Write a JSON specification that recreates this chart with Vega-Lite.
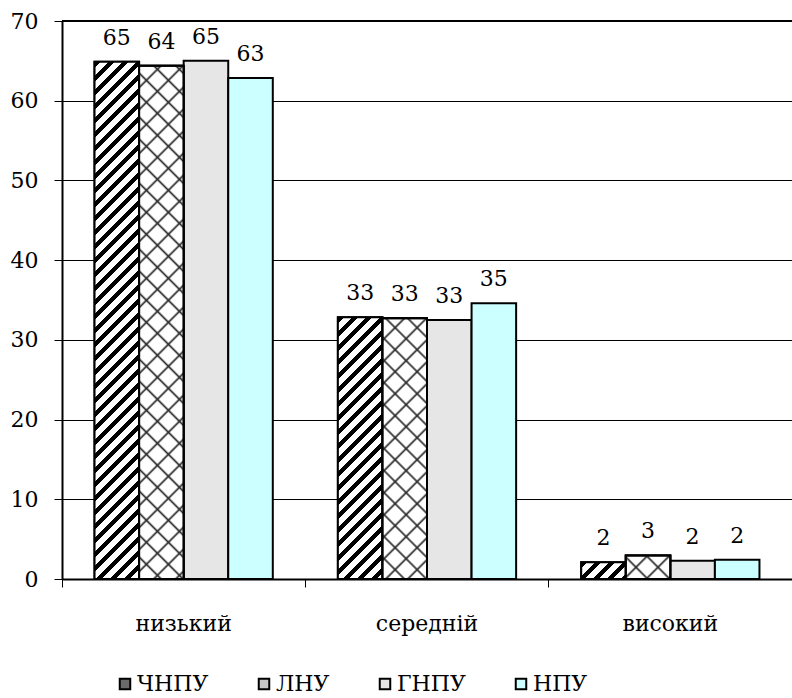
{
  "$schema": "https://vega.github.io/schema/vega-lite/v6.json",
  "width": 730,
  "height": 558,
  "autosize": {"type": "none"},
  "padding": {"left": 62, "top": 21, "right": 0, "bottom": 119},
  "background": "white",
  "config": {
    "view": {"stroke": null},
    "legend": {"labelFont": "DejaVu Serif", "labelFontSize": 22, "labelColor": "black"}
  },
  "data": {
    "values": [
      {"level": "низький", "uni": "ЧНПУ", "value": 64.9},
      {"level": "низький", "uni": "ЛНУ", "value": 64.4},
      {"level": "низький", "uni": "ГНПУ", "value": 65.0},
      {"level": "низький", "uni": "НПУ", "value": 62.85},
      {"level": "середній", "uni": "ЧНПУ", "value": 32.85},
      {"level": "середній", "uni": "ЛНУ", "value": 32.7},
      {"level": "середній", "uni": "ГНПУ", "value": 32.5},
      {"level": "середній", "uni": "НПУ", "value": 34.6},
      {"level": "високий", "uni": "ЧНПУ", "value": 2.1},
      {"level": "високий", "uni": "ЛНУ", "value": 2.95},
      {"level": "високий", "uni": "ГНПУ", "value": 2.3},
      {"level": "високий", "uni": "НПУ", "value": 2.4}
    ]
  },
  "encoding": {
    "x": {
      "field": "level",
      "type": "nominal",
      "sort": ["низький", "середній", "високий"],
      "scale": {"domain": ["низький", "середній", "високий"], "paddingInner": 0, "paddingOuter": 0},
      "axis": {
        "title": null,
        "labelAngle": 0,
        "bandPosition": 0,
        "tickSize": 8,
        "tickColor": "black",
        "tickWidth": 1,
        "domainColor": "black",
        "domainWidth": 2,
        "labelPadding": 26,
        "labelBaseline": "top",
        "labelFont": "DejaVu Serif",
        "labelFontSize": 22,
        "labelColor": "black",
        "grid": false
      }
    },
    "xOffset": {
      "field": "uni",
      "type": "nominal",
      "sort": ["ЧНПУ", "ЛНУ", "ГНПУ", "НПУ"],
      "scale": {"domain": ["ЧНПУ", "ЛНУ", "ГНПУ", "НПУ"], "paddingInner": 0, "paddingOuter": 0.73}
    },
    "y": {
      "field": "value",
      "type": "quantitative",
      "scale": {"domain": [0, 70], "nice": false},
      "axis": {
        "title": null,
        "values": [0, 10, 20, 30, 40, 50, 60, 70],
        "tickSize": 8,
        "tickColor": "black",
        "domainColor": "black",
        "domainWidth": 2,
        "gridColor": "black",
        "gridWidth": 1,
        "gridOpacity": 1,
        "labelPadding": 16,
        "labelFont": "DejaVu Serif",
        "labelFontSize": 22,
        "labelColor": "black"
      }
    }
  },
  "layer": [
    {
      "mark": {"type": "bar", "stroke": "black", "strokeWidth": 2},
      "encoding": {
        "fill": {
          "field": "uni",
          "type": "nominal",
          "sort": ["ЧНПУ", "ЛНУ", "ГНПУ", "НПУ"],
          "scale": {
            "domain": ["ЧНПУ", "ЛНУ", "ГНПУ", "НПУ"],
            "range": ["#6a6a6a", "#c6c6c6", "#e6e6e6", "#ccffff"]
          },
          "legend": {
            "title": null,
            "orient": "none",
            "direction": "horizontal",
            "legendX": 52,
            "legendY": 652,
            "symbolType": "square",
            "symbolSize": 110,
            "symbolStrokeColor": "black",
            "symbolStrokeWidth": 2,
            "symbolOpacity": 1,
            "labelFont": "DejaVu Serif",
            "labelFontSize": 22,
            "labelColor": "black",
            "labelOffset": 1,
            "columnPadding": 44
          }
        }
      }
    },
    {
      "transform": [{"filter": "datum.uni === 'ЧНПУ' || datum.uni === 'ЛНУ'"}],
      "mark": {"type": "bar", "stroke": "black", "strokeWidth": 2},
      "encoding": {
        "fill": {
          "condition": [
            {
              "test": "datum.uni === 'ЧНПУ' && datum.level === 'низький'",
              "value": {
                "gradient": "linear", "x1": 0, "y1": 0, "x2": 0.1157, "y2": 1.3432,
                "stops": [
                  {"offset": 0, "color": "#000"}, {"offset": 0.009, "color": "#000"}, {"offset": 0.009, "color": "#fff"}, {"offset": 0.02, "color": "#fff"},
                  {"offset": 0.02, "color": "#000"}, {"offset": 0.029, "color": "#000"}, {"offset": 0.029, "color": "#fff"}, {"offset": 0.04, "color": "#fff"},
                  {"offset": 0.04, "color": "#000"}, {"offset": 0.049, "color": "#000"}, {"offset": 0.049, "color": "#fff"}, {"offset": 0.06, "color": "#fff"},
                  {"offset": 0.06, "color": "#000"}, {"offset": 0.069, "color": "#000"}, {"offset": 0.069, "color": "#fff"}, {"offset": 0.08, "color": "#fff"},
                  {"offset": 0.08, "color": "#000"}, {"offset": 0.089, "color": "#000"}, {"offset": 0.089, "color": "#fff"}, {"offset": 0.1, "color": "#fff"},
                  {"offset": 0.1, "color": "#000"}, {"offset": 0.109, "color": "#000"}, {"offset": 0.109, "color": "#fff"}, {"offset": 0.12, "color": "#fff"},
                  {"offset": 0.12, "color": "#000"}, {"offset": 0.129, "color": "#000"}, {"offset": 0.129, "color": "#fff"}, {"offset": 0.14, "color": "#fff"},
                  {"offset": 0.14, "color": "#000"}, {"offset": 0.149, "color": "#000"}, {"offset": 0.149, "color": "#fff"}, {"offset": 0.16, "color": "#fff"},
                  {"offset": 0.16, "color": "#000"}, {"offset": 0.169, "color": "#000"}, {"offset": 0.169, "color": "#fff"}, {"offset": 0.18, "color": "#fff"},
                  {"offset": 0.18, "color": "#000"}, {"offset": 0.189, "color": "#000"}, {"offset": 0.189, "color": "#fff"}, {"offset": 0.2, "color": "#fff"},
                  {"offset": 0.2, "color": "#000"}, {"offset": 0.209, "color": "#000"}, {"offset": 0.209, "color": "#fff"}, {"offset": 0.22, "color": "#fff"},
                  {"offset": 0.22, "color": "#000"}, {"offset": 0.229, "color": "#000"}, {"offset": 0.229, "color": "#fff"}, {"offset": 0.24, "color": "#fff"},
                  {"offset": 0.24, "color": "#000"}, {"offset": 0.249, "color": "#000"}, {"offset": 0.249, "color": "#fff"}, {"offset": 0.26, "color": "#fff"},
                  {"offset": 0.26, "color": "#000"}, {"offset": 0.269, "color": "#000"}, {"offset": 0.269, "color": "#fff"}, {"offset": 0.28, "color": "#fff"},
                  {"offset": 0.28, "color": "#000"}, {"offset": 0.289, "color": "#000"}, {"offset": 0.289, "color": "#fff"}, {"offset": 0.3, "color": "#fff"},
                  {"offset": 0.3, "color": "#000"}, {"offset": 0.309, "color": "#000"}, {"offset": 0.309, "color": "#fff"}, {"offset": 0.32, "color": "#fff"},
                  {"offset": 0.32, "color": "#000"}, {"offset": 0.329, "color": "#000"}, {"offset": 0.329, "color": "#fff"}, {"offset": 0.34, "color": "#fff"},
                  {"offset": 0.34, "color": "#000"}, {"offset": 0.349, "color": "#000"}, {"offset": 0.349, "color": "#fff"}, {"offset": 0.36, "color": "#fff"},
                  {"offset": 0.36, "color": "#000"}, {"offset": 0.369, "color": "#000"}, {"offset": 0.369, "color": "#fff"}, {"offset": 0.38, "color": "#fff"},
                  {"offset": 0.38, "color": "#000"}, {"offset": 0.389, "color": "#000"}, {"offset": 0.389, "color": "#fff"}, {"offset": 0.4, "color": "#fff"},
                  {"offset": 0.4, "color": "#000"}, {"offset": 0.409, "color": "#000"}, {"offset": 0.409, "color": "#fff"}, {"offset": 0.42, "color": "#fff"},
                  {"offset": 0.42, "color": "#000"}, {"offset": 0.429, "color": "#000"}, {"offset": 0.429, "color": "#fff"}, {"offset": 0.44, "color": "#fff"},
                  {"offset": 0.44, "color": "#000"}, {"offset": 0.449, "color": "#000"}, {"offset": 0.449, "color": "#fff"}, {"offset": 0.46, "color": "#fff"},
                  {"offset": 0.46, "color": "#000"}, {"offset": 0.469, "color": "#000"}, {"offset": 0.469, "color": "#fff"}, {"offset": 0.48, "color": "#fff"},
                  {"offset": 0.48, "color": "#000"}, {"offset": 0.489, "color": "#000"}, {"offset": 0.489, "color": "#fff"}, {"offset": 0.5, "color": "#fff"},
                  {"offset": 0.5, "color": "#000"}, {"offset": 0.509, "color": "#000"}, {"offset": 0.509, "color": "#fff"}, {"offset": 0.52, "color": "#fff"},
                  {"offset": 0.52, "color": "#000"}, {"offset": 0.529, "color": "#000"}, {"offset": 0.529, "color": "#fff"}, {"offset": 0.54, "color": "#fff"},
                  {"offset": 0.54, "color": "#000"}, {"offset": 0.549, "color": "#000"}, {"offset": 0.549, "color": "#fff"}, {"offset": 0.56, "color": "#fff"},
                  {"offset": 0.56, "color": "#000"}, {"offset": 0.569, "color": "#000"}, {"offset": 0.569, "color": "#fff"}, {"offset": 0.58, "color": "#fff"},
                  {"offset": 0.58, "color": "#000"}, {"offset": 0.589, "color": "#000"}, {"offset": 0.589, "color": "#fff"}, {"offset": 0.6, "color": "#fff"},
                  {"offset": 0.6, "color": "#000"}, {"offset": 0.609, "color": "#000"}, {"offset": 0.609, "color": "#fff"}, {"offset": 0.62, "color": "#fff"},
                  {"offset": 0.62, "color": "#000"}, {"offset": 0.629, "color": "#000"}, {"offset": 0.629, "color": "#fff"}, {"offset": 0.64, "color": "#fff"},
                  {"offset": 0.64, "color": "#000"}, {"offset": 0.649, "color": "#000"}, {"offset": 0.649, "color": "#fff"}, {"offset": 0.66, "color": "#fff"},
                  {"offset": 0.66, "color": "#000"}, {"offset": 0.669, "color": "#000"}, {"offset": 0.669, "color": "#fff"}, {"offset": 0.68, "color": "#fff"},
                  {"offset": 0.68, "color": "#000"}, {"offset": 0.689, "color": "#000"}, {"offset": 0.689, "color": "#fff"}, {"offset": 0.7, "color": "#fff"},
                  {"offset": 0.7, "color": "#000"}, {"offset": 0.709, "color": "#000"}, {"offset": 0.709, "color": "#fff"}, {"offset": 0.72, "color": "#fff"},
                  {"offset": 0.72, "color": "#000"}, {"offset": 0.729, "color": "#000"}, {"offset": 0.729, "color": "#fff"}, {"offset": 0.74, "color": "#fff"},
                  {"offset": 0.74, "color": "#000"}, {"offset": 0.749, "color": "#000"}, {"offset": 0.749, "color": "#fff"}, {"offset": 0.76, "color": "#fff"},
                  {"offset": 0.76, "color": "#000"}, {"offset": 0.769, "color": "#000"}, {"offset": 0.769, "color": "#fff"}, {"offset": 0.78, "color": "#fff"},
                  {"offset": 0.78, "color": "#000"}, {"offset": 0.789, "color": "#000"}, {"offset": 0.789, "color": "#fff"}, {"offset": 0.8, "color": "#fff"},
                  {"offset": 0.8, "color": "#000"}, {"offset": 0.809, "color": "#000"}, {"offset": 0.809, "color": "#fff"}, {"offset": 0.82, "color": "#fff"}
                ]
              }
            },
            {
              "test": "datum.uni === 'ЧНПУ' && datum.level === 'середній'",
              "value": {
                "gradient": "linear", "x1": 0, "y1": 0, "x2": 0.2211, "y2": 1.299,
                "stops": [
                  {"offset": 0, "color": "#000"}, {"offset": 0.018, "color": "#000"}, {"offset": 0.018, "color": "#fff"}, {"offset": 0.04, "color": "#fff"},
                  {"offset": 0.04, "color": "#000"}, {"offset": 0.058, "color": "#000"}, {"offset": 0.058, "color": "#fff"}, {"offset": 0.08, "color": "#fff"},
                  {"offset": 0.08, "color": "#000"}, {"offset": 0.098, "color": "#000"}, {"offset": 0.098, "color": "#fff"}, {"offset": 0.12, "color": "#fff"},
                  {"offset": 0.12, "color": "#000"}, {"offset": 0.138, "color": "#000"}, {"offset": 0.138, "color": "#fff"}, {"offset": 0.16, "color": "#fff"},
                  {"offset": 0.16, "color": "#000"}, {"offset": 0.178, "color": "#000"}, {"offset": 0.178, "color": "#fff"}, {"offset": 0.2, "color": "#fff"},
                  {"offset": 0.2, "color": "#000"}, {"offset": 0.218, "color": "#000"}, {"offset": 0.218, "color": "#fff"}, {"offset": 0.24, "color": "#fff"},
                  {"offset": 0.24, "color": "#000"}, {"offset": 0.258, "color": "#000"}, {"offset": 0.258, "color": "#fff"}, {"offset": 0.28, "color": "#fff"},
                  {"offset": 0.28, "color": "#000"}, {"offset": 0.298, "color": "#000"}, {"offset": 0.298, "color": "#fff"}, {"offset": 0.32, "color": "#fff"},
                  {"offset": 0.32, "color": "#000"}, {"offset": 0.338, "color": "#000"}, {"offset": 0.338, "color": "#fff"}, {"offset": 0.36, "color": "#fff"},
                  {"offset": 0.36, "color": "#000"}, {"offset": 0.378, "color": "#000"}, {"offset": 0.378, "color": "#fff"}, {"offset": 0.4, "color": "#fff"},
                  {"offset": 0.4, "color": "#000"}, {"offset": 0.418, "color": "#000"}, {"offset": 0.418, "color": "#fff"}, {"offset": 0.44, "color": "#fff"},
                  {"offset": 0.44, "color": "#000"}, {"offset": 0.458, "color": "#000"}, {"offset": 0.458, "color": "#fff"}, {"offset": 0.48, "color": "#fff"},
                  {"offset": 0.48, "color": "#000"}, {"offset": 0.498, "color": "#000"}, {"offset": 0.498, "color": "#fff"}, {"offset": 0.52, "color": "#fff"},
                  {"offset": 0.52, "color": "#000"}, {"offset": 0.538, "color": "#000"}, {"offset": 0.538, "color": "#fff"}, {"offset": 0.56, "color": "#fff"},
                  {"offset": 0.56, "color": "#000"}, {"offset": 0.578, "color": "#000"}, {"offset": 0.578, "color": "#fff"}, {"offset": 0.6, "color": "#fff"},
                  {"offset": 0.6, "color": "#000"}, {"offset": 0.618, "color": "#000"}, {"offset": 0.618, "color": "#fff"}, {"offset": 0.64, "color": "#fff"},
                  {"offset": 0.64, "color": "#000"}, {"offset": 0.658, "color": "#000"}, {"offset": 0.658, "color": "#fff"}, {"offset": 0.68, "color": "#fff"},
                  {"offset": 0.68, "color": "#000"}, {"offset": 0.698, "color": "#000"}, {"offset": 0.698, "color": "#fff"}, {"offset": 0.72, "color": "#fff"},
                  {"offset": 0.72, "color": "#000"}, {"offset": 0.738, "color": "#000"}, {"offset": 0.738, "color": "#fff"}, {"offset": 0.76, "color": "#fff"},
                  {"offset": 0.76, "color": "#000"}, {"offset": 0.778, "color": "#000"}, {"offset": 0.778, "color": "#fff"}, {"offset": 0.8, "color": "#fff"},
                  {"offset": 0.8, "color": "#000"}, {"offset": 0.818, "color": "#000"}, {"offset": 0.818, "color": "#fff"}, {"offset": 0.84, "color": "#fff"},
                  {"offset": 0.84, "color": "#000"}, {"offset": 0.858, "color": "#000"}, {"offset": 0.858, "color": "#fff"}, {"offset": 0.88, "color": "#fff"}
                ]
              }
            },
            {
              "test": "datum.uni === 'ЧНПУ' && datum.level === 'високий'",
              "value": {
                "gradient": "linear", "x1": 0, "y1": 0, "x2": 1.3764, "y2": 0.517,
                "stops": [
                  {"offset": 0, "color": "#000"}, {"offset": 0.09, "color": "#000"}, {"offset": 0.09, "color": "#fff"}, {"offset": 0.2, "color": "#fff"},
                  {"offset": 0.2, "color": "#000"}, {"offset": 0.29, "color": "#000"}, {"offset": 0.29, "color": "#fff"}, {"offset": 0.4, "color": "#fff"},
                  {"offset": 0.4, "color": "#000"}, {"offset": 0.49, "color": "#000"}, {"offset": 0.49, "color": "#fff"}, {"offset": 0.6, "color": "#fff"},
                  {"offset": 0.6, "color": "#000"}, {"offset": 0.69, "color": "#000"}, {"offset": 0.69, "color": "#fff"}, {"offset": 0.8, "color": "#fff"},
                  {"offset": 0.8, "color": "#000"}, {"offset": 0.89, "color": "#000"}, {"offset": 0.89, "color": "#fff"}, {"offset": 1, "color": "#fff"}
                ]
              }
            },
            {
              "test": "datum.uni === 'ЛНУ' && datum.level === 'низький'",
              "value": {
                "gradient": "linear", "x1": 0, "y1": 0, "x2": 0.1846, "y2": 2.1267,
                "stops": [
                  {"offset": 0, "color": "#2a2a2a"}, {"offset": 0.0022, "color": "#fff"}, {"offset": 0.0178, "color": "#fff"},
                  {"offset": 0.02, "color": "#2a2a2a"}, {"offset": 0.0222, "color": "#fff"}, {"offset": 0.0378, "color": "#fff"},
                  {"offset": 0.04, "color": "#2a2a2a"}, {"offset": 0.0422, "color": "#fff"}, {"offset": 0.0578, "color": "#fff"},
                  {"offset": 0.06, "color": "#2a2a2a"}, {"offset": 0.0622, "color": "#fff"}, {"offset": 0.0778, "color": "#fff"},
                  {"offset": 0.08, "color": "#2a2a2a"}, {"offset": 0.0822, "color": "#fff"}, {"offset": 0.0978, "color": "#fff"},
                  {"offset": 0.1, "color": "#2a2a2a"}, {"offset": 0.1022, "color": "#fff"}, {"offset": 0.1178, "color": "#fff"},
                  {"offset": 0.12, "color": "#2a2a2a"}, {"offset": 0.1222, "color": "#fff"}, {"offset": 0.1378, "color": "#fff"},
                  {"offset": 0.14, "color": "#2a2a2a"}, {"offset": 0.1422, "color": "#fff"}, {"offset": 0.1578, "color": "#fff"},
                  {"offset": 0.16, "color": "#2a2a2a"}, {"offset": 0.1622, "color": "#fff"}, {"offset": 0.1778, "color": "#fff"},
                  {"offset": 0.18, "color": "#2a2a2a"}, {"offset": 0.1822, "color": "#fff"}, {"offset": 0.1978, "color": "#fff"},
                  {"offset": 0.2, "color": "#2a2a2a"}, {"offset": 0.2022, "color": "#fff"}, {"offset": 0.2178, "color": "#fff"},
                  {"offset": 0.22, "color": "#2a2a2a"}, {"offset": 0.2222, "color": "#fff"}, {"offset": 0.2378, "color": "#fff"},
                  {"offset": 0.24, "color": "#2a2a2a"}, {"offset": 0.2422, "color": "#fff"}, {"offset": 0.2578, "color": "#fff"},
                  {"offset": 0.26, "color": "#2a2a2a"}, {"offset": 0.2622, "color": "#fff"}, {"offset": 0.2778, "color": "#fff"},
                  {"offset": 0.28, "color": "#2a2a2a"}, {"offset": 0.2822, "color": "#fff"}, {"offset": 0.2978, "color": "#fff"},
                  {"offset": 0.3, "color": "#2a2a2a"}, {"offset": 0.3022, "color": "#fff"}, {"offset": 0.3178, "color": "#fff"},
                  {"offset": 0.32, "color": "#2a2a2a"}, {"offset": 0.3222, "color": "#fff"}, {"offset": 0.3378, "color": "#fff"},
                  {"offset": 0.34, "color": "#2a2a2a"}, {"offset": 0.3422, "color": "#fff"}, {"offset": 0.3578, "color": "#fff"},
                  {"offset": 0.36, "color": "#2a2a2a"}, {"offset": 0.3622, "color": "#fff"}, {"offset": 0.3778, "color": "#fff"},
                  {"offset": 0.38, "color": "#2a2a2a"}, {"offset": 0.3822, "color": "#fff"}, {"offset": 0.3978, "color": "#fff"},
                  {"offset": 0.4, "color": "#2a2a2a"}, {"offset": 0.4022, "color": "#fff"}, {"offset": 0.4178, "color": "#fff"},
                  {"offset": 0.42, "color": "#2a2a2a"}, {"offset": 0.4222, "color": "#fff"}, {"offset": 0.4378, "color": "#fff"},
                  {"offset": 0.44, "color": "#2a2a2a"}, {"offset": 0.4422, "color": "#fff"}, {"offset": 0.4578, "color": "#fff"},
                  {"offset": 0.46, "color": "#2a2a2a"}, {"offset": 0.4622, "color": "#fff"}, {"offset": 0.4778, "color": "#fff"},
                  {"offset": 0.48, "color": "#2a2a2a"}, {"offset": 0.4822, "color": "#fff"}, {"offset": 0.4978, "color": "#fff"},
                  {"offset": 0.5, "color": "#2a2a2a"}, {"offset": 0.5022, "color": "#fff"}, {"offset": 0.5178, "color": "#fff"},
                  {"offset": 0.52, "color": "#2a2a2a"}
                ]
              }
            },
            {
              "test": "datum.uni === 'ЛНУ' && datum.level === 'середній'",
              "value": {
                "gradient": "linear", "x1": 0, "y1": 0, "x2": 0.3505, "y2": 2.0501,
                "stops": [
                  {"offset": 0, "color": "#2a2a2a"}, {"offset": 0.0044, "color": "#fff"}, {"offset": 0.0356, "color": "#fff"},
                  {"offset": 0.04, "color": "#2a2a2a"}, {"offset": 0.0444, "color": "#fff"}, {"offset": 0.0756, "color": "#fff"},
                  {"offset": 0.08, "color": "#2a2a2a"}, {"offset": 0.0844, "color": "#fff"}, {"offset": 0.1156, "color": "#fff"},
                  {"offset": 0.12, "color": "#2a2a2a"}, {"offset": 0.1244, "color": "#fff"}, {"offset": 0.1556, "color": "#fff"},
                  {"offset": 0.16, "color": "#2a2a2a"}, {"offset": 0.1644, "color": "#fff"}, {"offset": 0.1956, "color": "#fff"},
                  {"offset": 0.2, "color": "#2a2a2a"}, {"offset": 0.2044, "color": "#fff"}, {"offset": 0.2356, "color": "#fff"},
                  {"offset": 0.24, "color": "#2a2a2a"}, {"offset": 0.2444, "color": "#fff"}, {"offset": 0.2756, "color": "#fff"},
                  {"offset": 0.28, "color": "#2a2a2a"}, {"offset": 0.2844, "color": "#fff"}, {"offset": 0.3156, "color": "#fff"},
                  {"offset": 0.32, "color": "#2a2a2a"}, {"offset": 0.3244, "color": "#fff"}, {"offset": 0.3556, "color": "#fff"},
                  {"offset": 0.36, "color": "#2a2a2a"}, {"offset": 0.3644, "color": "#fff"}, {"offset": 0.3956, "color": "#fff"},
                  {"offset": 0.4, "color": "#2a2a2a"}, {"offset": 0.4044, "color": "#fff"}, {"offset": 0.4356, "color": "#fff"},
                  {"offset": 0.44, "color": "#2a2a2a"}, {"offset": 0.4444, "color": "#fff"}, {"offset": 0.4756, "color": "#fff"},
                  {"offset": 0.48, "color": "#2a2a2a"}, {"offset": 0.4844, "color": "#fff"}, {"offset": 0.5156, "color": "#fff"},
                  {"offset": 0.52, "color": "#2a2a2a"}, {"offset": 0.5244, "color": "#fff"}, {"offset": 0.5556, "color": "#fff"},
                  {"offset": 0.56, "color": "#2a2a2a"}
                ]
              }
            }
          ],
          "value": {
            "gradient": "linear", "x1": 0, "y1": 0, "x2": 1.9304, "y2": 1.0187,
            "stops": [
              {"offset": 0, "color": "#2a2a2a"}, {"offset": 0.022, "color": "#fff"}, {"offset": 0.178, "color": "#fff"},
              {"offset": 0.2, "color": "#2a2a2a"}, {"offset": 0.222, "color": "#fff"}, {"offset": 0.378, "color": "#fff"},
              {"offset": 0.4, "color": "#2a2a2a"}, {"offset": 0.422, "color": "#fff"}, {"offset": 0.578, "color": "#fff"},
              {"offset": 0.6, "color": "#2a2a2a"}, {"offset": 0.622, "color": "#fff"}, {"offset": 0.778, "color": "#fff"},
              {"offset": 0.8, "color": "#2a2a2a"}
            ]
          }
        }
      }
    },
    {
      "transform": [{"filter": "datum.uni === 'ЛНУ'"}],
      "mark": {"type": "bar", "stroke": "black", "strokeWidth": 2},
      "encoding": {
        "fill": {
          "condition": [
            {
              "test": "datum.level === 'низький'",
              "value": {
                "gradient": "linear", "x1": 0, "y1": 1, "x2": 0.1846, "y2": -1.1267,
                "stops": [
                  {"offset": 0, "color": "#2a2a2a"}, {"offset": 0.0022, "color": "rgba(42,42,42,0)"}, {"offset": 0.0178, "color": "rgba(42,42,42,0)"},
                  {"offset": 0.02, "color": "#2a2a2a"}, {"offset": 0.0222, "color": "rgba(42,42,42,0)"}, {"offset": 0.0378, "color": "rgba(42,42,42,0)"},
                  {"offset": 0.04, "color": "#2a2a2a"}, {"offset": 0.0422, "color": "rgba(42,42,42,0)"}, {"offset": 0.0578, "color": "rgba(42,42,42,0)"},
                  {"offset": 0.06, "color": "#2a2a2a"}, {"offset": 0.0622, "color": "rgba(42,42,42,0)"}, {"offset": 0.0778, "color": "rgba(42,42,42,0)"},
                  {"offset": 0.08, "color": "#2a2a2a"}, {"offset": 0.0822, "color": "rgba(42,42,42,0)"}, {"offset": 0.0978, "color": "rgba(42,42,42,0)"},
                  {"offset": 0.1, "color": "#2a2a2a"}, {"offset": 0.1022, "color": "rgba(42,42,42,0)"}, {"offset": 0.1178, "color": "rgba(42,42,42,0)"},
                  {"offset": 0.12, "color": "#2a2a2a"}, {"offset": 0.1222, "color": "rgba(42,42,42,0)"}, {"offset": 0.1378, "color": "rgba(42,42,42,0)"},
                  {"offset": 0.14, "color": "#2a2a2a"}, {"offset": 0.1422, "color": "rgba(42,42,42,0)"}, {"offset": 0.1578, "color": "rgba(42,42,42,0)"},
                  {"offset": 0.16, "color": "#2a2a2a"}, {"offset": 0.1622, "color": "rgba(42,42,42,0)"}, {"offset": 0.1778, "color": "rgba(42,42,42,0)"},
                  {"offset": 0.18, "color": "#2a2a2a"}, {"offset": 0.1822, "color": "rgba(42,42,42,0)"}, {"offset": 0.1978, "color": "rgba(42,42,42,0)"},
                  {"offset": 0.2, "color": "#2a2a2a"}, {"offset": 0.2022, "color": "rgba(42,42,42,0)"}, {"offset": 0.2178, "color": "rgba(42,42,42,0)"},
                  {"offset": 0.22, "color": "#2a2a2a"}, {"offset": 0.2222, "color": "rgba(42,42,42,0)"}, {"offset": 0.2378, "color": "rgba(42,42,42,0)"},
                  {"offset": 0.24, "color": "#2a2a2a"}, {"offset": 0.2422, "color": "rgba(42,42,42,0)"}, {"offset": 0.2578, "color": "rgba(42,42,42,0)"},
                  {"offset": 0.26, "color": "#2a2a2a"}, {"offset": 0.2622, "color": "rgba(42,42,42,0)"}, {"offset": 0.2778, "color": "rgba(42,42,42,0)"},
                  {"offset": 0.28, "color": "#2a2a2a"}, {"offset": 0.2822, "color": "rgba(42,42,42,0)"}, {"offset": 0.2978, "color": "rgba(42,42,42,0)"},
                  {"offset": 0.3, "color": "#2a2a2a"}, {"offset": 0.3022, "color": "rgba(42,42,42,0)"}, {"offset": 0.3178, "color": "rgba(42,42,42,0)"},
                  {"offset": 0.32, "color": "#2a2a2a"}, {"offset": 0.3222, "color": "rgba(42,42,42,0)"}, {"offset": 0.3378, "color": "rgba(42,42,42,0)"},
                  {"offset": 0.34, "color": "#2a2a2a"}, {"offset": 0.3422, "color": "rgba(42,42,42,0)"}, {"offset": 0.3578, "color": "rgba(42,42,42,0)"},
                  {"offset": 0.36, "color": "#2a2a2a"}, {"offset": 0.3622, "color": "rgba(42,42,42,0)"}, {"offset": 0.3778, "color": "rgba(42,42,42,0)"},
                  {"offset": 0.38, "color": "#2a2a2a"}, {"offset": 0.3822, "color": "rgba(42,42,42,0)"}, {"offset": 0.3978, "color": "rgba(42,42,42,0)"},
                  {"offset": 0.4, "color": "#2a2a2a"}, {"offset": 0.4022, "color": "rgba(42,42,42,0)"}, {"offset": 0.4178, "color": "rgba(42,42,42,0)"},
                  {"offset": 0.42, "color": "#2a2a2a"}, {"offset": 0.4222, "color": "rgba(42,42,42,0)"}, {"offset": 0.4378, "color": "rgba(42,42,42,0)"},
                  {"offset": 0.44, "color": "#2a2a2a"}, {"offset": 0.4422, "color": "rgba(42,42,42,0)"}, {"offset": 0.4578, "color": "rgba(42,42,42,0)"},
                  {"offset": 0.46, "color": "#2a2a2a"}, {"offset": 0.4622, "color": "rgba(42,42,42,0)"}, {"offset": 0.4778, "color": "rgba(42,42,42,0)"},
                  {"offset": 0.48, "color": "#2a2a2a"}, {"offset": 0.4822, "color": "rgba(42,42,42,0)"}, {"offset": 0.4978, "color": "rgba(42,42,42,0)"},
                  {"offset": 0.5, "color": "#2a2a2a"}, {"offset": 0.5022, "color": "rgba(42,42,42,0)"}, {"offset": 0.5178, "color": "rgba(42,42,42,0)"},
                  {"offset": 0.52, "color": "#2a2a2a"}
                ]
              }
            },
            {
              "test": "datum.level === 'середній'",
              "value": {
                "gradient": "linear", "x1": 0, "y1": 1, "x2": 0.3505, "y2": -1.0501,
                "stops": [
                  {"offset": 0, "color": "#2a2a2a"}, {"offset": 0.0044, "color": "rgba(42,42,42,0)"}, {"offset": 0.0356, "color": "rgba(42,42,42,0)"},
                  {"offset": 0.04, "color": "#2a2a2a"}, {"offset": 0.0444, "color": "rgba(42,42,42,0)"}, {"offset": 0.0756, "color": "rgba(42,42,42,0)"},
                  {"offset": 0.08, "color": "#2a2a2a"}, {"offset": 0.0844, "color": "rgba(42,42,42,0)"}, {"offset": 0.1156, "color": "rgba(42,42,42,0)"},
                  {"offset": 0.12, "color": "#2a2a2a"}, {"offset": 0.1244, "color": "rgba(42,42,42,0)"}, {"offset": 0.1556, "color": "rgba(42,42,42,0)"},
                  {"offset": 0.16, "color": "#2a2a2a"}, {"offset": 0.1644, "color": "rgba(42,42,42,0)"}, {"offset": 0.1956, "color": "rgba(42,42,42,0)"},
                  {"offset": 0.2, "color": "#2a2a2a"}, {"offset": 0.2044, "color": "rgba(42,42,42,0)"}, {"offset": 0.2356, "color": "rgba(42,42,42,0)"},
                  {"offset": 0.24, "color": "#2a2a2a"}, {"offset": 0.2444, "color": "rgba(42,42,42,0)"}, {"offset": 0.2756, "color": "rgba(42,42,42,0)"},
                  {"offset": 0.28, "color": "#2a2a2a"}, {"offset": 0.2844, "color": "rgba(42,42,42,0)"}, {"offset": 0.3156, "color": "rgba(42,42,42,0)"},
                  {"offset": 0.32, "color": "#2a2a2a"}, {"offset": 0.3244, "color": "rgba(42,42,42,0)"}, {"offset": 0.3556, "color": "rgba(42,42,42,0)"},
                  {"offset": 0.36, "color": "#2a2a2a"}, {"offset": 0.3644, "color": "rgba(42,42,42,0)"}, {"offset": 0.3956, "color": "rgba(42,42,42,0)"},
                  {"offset": 0.4, "color": "#2a2a2a"}, {"offset": 0.4044, "color": "rgba(42,42,42,0)"}, {"offset": 0.4356, "color": "rgba(42,42,42,0)"},
                  {"offset": 0.44, "color": "#2a2a2a"}, {"offset": 0.4444, "color": "rgba(42,42,42,0)"}, {"offset": 0.4756, "color": "rgba(42,42,42,0)"},
                  {"offset": 0.48, "color": "#2a2a2a"}, {"offset": 0.4844, "color": "rgba(42,42,42,0)"}, {"offset": 0.5156, "color": "rgba(42,42,42,0)"},
                  {"offset": 0.52, "color": "#2a2a2a"}, {"offset": 0.5244, "color": "rgba(42,42,42,0)"}, {"offset": 0.5556, "color": "rgba(42,42,42,0)"},
                  {"offset": 0.56, "color": "#2a2a2a"}
                ]
              }
            }
          ],
          "value": {
            "gradient": "linear", "x1": 0, "y1": 1, "x2": 1.9304, "y2": -0.0187,
            "stops": [
              {"offset": 0, "color": "#2a2a2a"}, {"offset": 0.022, "color": "rgba(42,42,42,0)"}, {"offset": 0.178, "color": "rgba(42,42,42,0)"},
              {"offset": 0.2, "color": "#2a2a2a"}, {"offset": 0.222, "color": "rgba(42,42,42,0)"}, {"offset": 0.378, "color": "rgba(42,42,42,0)"},
              {"offset": 0.4, "color": "#2a2a2a"}, {"offset": 0.422, "color": "rgba(42,42,42,0)"}, {"offset": 0.578, "color": "rgba(42,42,42,0)"},
              {"offset": 0.6, "color": "#2a2a2a"}, {"offset": 0.622, "color": "rgba(42,42,42,0)"}, {"offset": 0.778, "color": "rgba(42,42,42,0)"},
              {"offset": 0.8, "color": "#2a2a2a"}
            ]
          }
        }
      }
    },
    {
      "mark": {"type": "text", "dy": -17, "baseline": "alphabetic", "color": "black", "font": "DejaVu Serif", "fontSize": 22},
      "encoding": {
        "text": {"field": "value", "type": "quantitative", "format": ".0f"}
      }
    },
    {
      "data": {"values": [{"top": 70}]},
      "mark": {"type": "rule", "color": "black", "strokeWidth": 2},
      "encoding": {
        "x": null,
        "xOffset": null,
        "y": {"field": "top", "type": "quantitative"}
      }
    }
  ]
}
